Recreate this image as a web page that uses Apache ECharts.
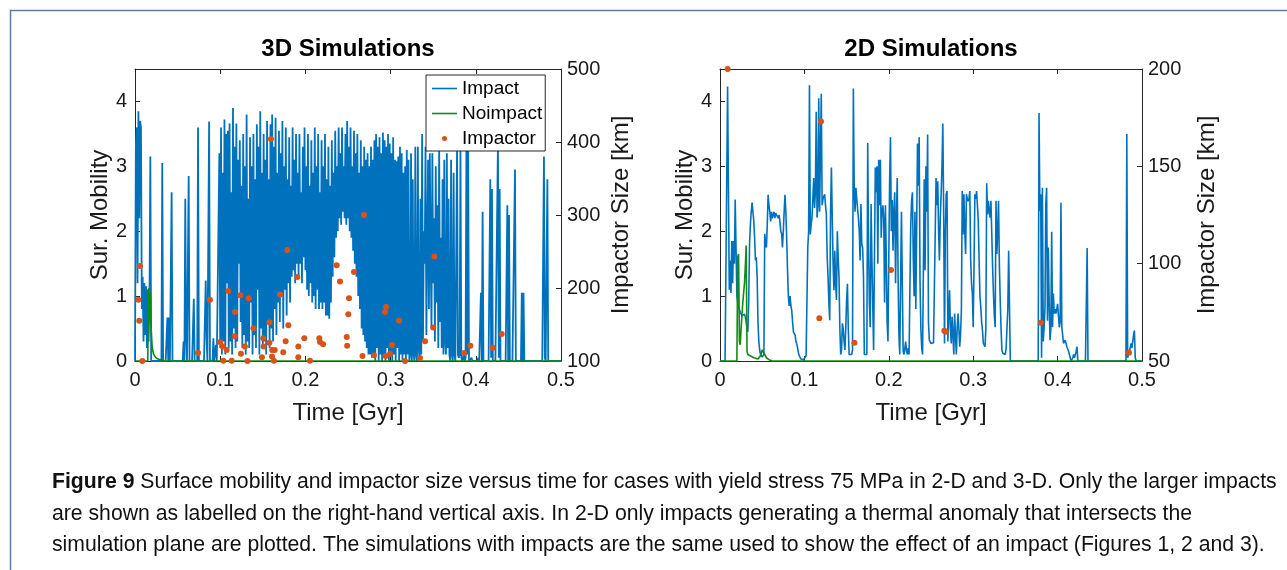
<!DOCTYPE html>
<html><head><meta charset="utf-8">
<script src="https://cdn.jsdelivr.net/npm/echarts@6/dist/echarts.min.js"></script>
<style>html,body{margin:0;padding:0;background:#fff}#c{width:1287px;height:570px}</style>
</head><body><div id="c"></div><script>
// ---------- DATA ----------
const timeStep = 0.001; // sampling step of the mobility series [Gyr]
const impact3D = [
0, 3.3, 3.6, 1.2, 3.85, 2.2, 3.7, 3.6, 0.8, 1.3,
0.3, 1.2, 0.4, 1.15, 0.2, 1.1, 0.3, 0.9, 3.15, 0,
0, 0, 0, 0, 0, 0, 0, 0, 0, 0,
0, 0, 3.05, 0, 0, 0, 0, 0, 0.67, 0,
0.67, 0, 0, 2.6, 0, 0, 0, 0, 0, 0,
0, 0, 0, 0, 0, 0, 0, 0.3, 0, 2.5,
0.4, 0, 0, 2.85, 0, 0, 0, 0, 0, 0.96,
0, 0, 0, 0, 3.6, 0, 0, 0, 0, 0,
0, 0, 0, 1.24, 0.35, 0, 0, 3.69, 0, 0,
0, 0, 0.35, 0, 0, 0.25, 0, 0, 0, 3.2,
0.2, 3.6, 0.1, 2.9, 0.3, 3.72, 0.1, 3.5, 1.2, 3.55,
0.2, 3.66, 0.3, 2.6, 0.1, 3.9, 0.5, 3.3, 0.2, 3.66,
0.3, 3.1, 1.5, 3.4, 0.6, 2.7, 0.2, 3.5, 0.4, 3.0,
0.1, 3.8, 0.3, 2.5, 0.2, 3.45, 0.9, 3.0, 0.1, 3.5,
0.4, 2.8, 0.2, 3.65, 1.1, 3.3, 0.1, 3.85, 0.5, 2.9,
0.2, 3.5, 0.3, 3.1, 0.1, 3.7, 0.6, 2.8, 0.2, 3.65,
0.5, 3.8, 0.3, 3.3, 0.8, 3.75, 0.4, 2.9, 0.9, 3.55,
0.6, 3.2, 1.0, 3.7, 0.5, 3.0, 1.1, 3.6, 0.7, 2.8,
1.2, 3.45, 0.9, 2.7, 1.3, 3.6, 1.4, 3.1, 1.2, 3.5,
1.5, 2.9, 1.3, 3.5, 1.5, 2.6, 1.2, 3.3, 1.6, 3.6,
1.4, 3.0, 1.1, 3.5, 1.0, 2.7, 1.2, 3.4, 0.9, 2.9,
1.0, 3.6, 0.8, 3.0, 1.1, 3.5, 0.8, 2.6, 0.9, 3.4,
0.8, 3.0, 0.9, 3.5, 0.7, 2.8, 0.7, 3.3, 0.65, 2.7,
0.9, 3.4, 1.3, 2.9, 1.6, 3.55, 1.9, 3.0, 2.0, 3.6,
2.2, 3.2, 2.1, 3.6, 2.3, 3.0, 2.2, 3.5, 2.1, 3.7,
2.2, 3.3, 2.0, 3.6, 1.9, 3.0, 1.7, 3.55, 1.5, 3.2,
1.3, 3.5, 1.0, 2.9, 0.8, 3.4, 0.5, 3.0, 0.4, 3.3,
0.3, 3.1, 0.2, 3.2, 0.1, 3.0, 0.1, 3.3, 0.05, 3.1,
0.1, 3.4, 0.0, 3.5, 0.2, 3.3, 0.0, 3.45, 0.1, 3.2,
0.0, 3.52, 0.1, 3.4, 0.0, 3.3, 0.2, 3.5, 0.0, 3.35,
0.1, 3.2, 0.0, 3.45, 0.1, 3.1, 0.0, 3.08, 0.2, 3.15,
0.0, 3.3, 0.1, 3.2, 0.0, 2.9, 0.1, 3.0, 0.0, 3.25,
0.1, 3.1, 0.0, 0.1, 3.2, 0.0, 2.8, 0.1, 0.0, 3.3,
0.1, 0.0, 3.3, 0.2, 0.0, 2.5, 0.1, 3.5, 0.3, 2.0,
1.5, 3.3, 0.4, 1.8, 3.1, 0.8, 3.2, 1.7, 0.5, 3.2,
1.2, 2.2, 0.3, 3.0, 0.9, 2.4, 0.2, 3.3, 0.6, 1.9,
0.2, 2.8, 0.1, 3.1, 0.3, 0.1, 3.2, 0.2, 2.5, 0.1,
0.0, 3.1, 0.1, 0.0, 2.9, 0.1, 0.0, 0.0, 3.3, 0.1,
0.05, 0.1, 3.3, 0.05, 0.0, 0.0, 0.1, 0.0, 0.05, 3.4,
0.1, 3.45, 0.0, 0.0, 0.0, 0.05, 0.0, 0.0, 0.0, 0.0,
0.0, 0.0, 0.0, 0.05, 0.0, 0.0, 1.05, 0.0, 2.3, 0.0,
0.0, 0.0, 0.0, 0.0, 0.0, 0.0, 0.0, 2.8, 0.05, 2.65,
0.0, 0.0, 0.0, 0.0, 0.0, 0.0, 3.35, 0.05, 2.65, 0.0,
0.0, 0.0, 0.0, 0.0, 0.0, 0.0, 0.0, 2.4, 0.0, 2.25,
0.0, 0.0, 0.0, 0.0, 0.0, 0.0, 2.95, 0.0, 0.0, 0.0,
0.0, 0.0, 0.0, 0.0, 1.05, 0.0, 1.05, 0.0, 0.0, 0.0,
0, 0, 0, 0, 0, 0, 0, 0, 0, 0,
0, 0, 0, 0, 0, 0, 0, 0, 0, 0,
3.15, 0.05, 0.0, 0.0, 2.8, 0.0, 0.0, 0.0, 0.0, 0.0,
0, 0, 0, 0, 0, 0, 0, 0, 0, 0,
0
];
const noimpact3D = [[0,0],[0.015,0],[0.016,1.12],[0.017,1.0],[0.018,1.05],[0.019,0.5],[0.020,0.25],[0.021,0.15],[0.022,0.1],[0.024,0.06],[0.027,0.03],[0.032,0.01],[0.035,0],[0.5,0]];
const impactor3DTime = [0.0059,0.0039,0.005,0.0086,0.074,0.088,0.1096,0.1174,0.1236,0.1334,0.139,0.1,0.103,0.1076,0.117,0.129,0.1244,0.1037,0.1135,0.132,0.149,0.1506,0.151,0.1577,0.1577,0.161,0.164,0.1608,0.163,0.1596,0.1788,0.1905,0.1702,0.18,0.1768,0.174,0.1917,0.1917,0.1987,0.2054,0.2163,0.2171,0.2207,0.2367,0.2406,0.2512,0.2504,0.2485,0.249,0.2688,0.257,0.267,0.2805,0.2946,0.2934,0.2942,0.2993,0.3016,0.3099,0.3169,0.3345,0.3404,0.3513,0.35,0.3862,0.3936,0.4198,0.4304];
const impactor3DSize = [230,184,155,100,111,184,196,167,190,186,145,126,120,115,134,120,110,100.5,100.5,100,105,131,120,153,125,115,115,106,100.5,404,252,215,191,149,127,112,120,105,131,100.5,131,126,123,231,209,186,164,133,121,300,222,107,108,174,167,107,110,122,155,100,104,127,243,146,111,121,118,137];

const impact2D = [
0, 0, 0, 0, 0, 0, 0, 0, 0, 4.23,
2.62, 1.1, 1.55, 1.05, 1.85, 1.2, 1.85, 1.5, 2.49, 1.75,
1.0, 0.9, 0.83, 0.8, 0.75, 0.72, 0.7, 0.68, 0.7, 0.72,
0.68, 0.6, 0.5, 0.45, 0.9, 1.8, 2.1, 2.3, 2.44, 2.3,
2.16, 1.9, 1.55, 1.6, 1.3, 0.6, 0.3, 0.17, 0.1, 0.07,
0.06, 0.08, 0.1, 1.96, 1.8, 1.75, 2.1, 2.56, 2.4, 2.3,
2.15, 2.3, 2.2, 2.25, 2.3, 2.2, 2.28, 2.25, 2.3, 2.2,
2.25, 2.15, 2.0, 1.96, 1.75, 2.0, 2.3, 2.56, 2.3, 1.9,
1.4, 1.0, 0.85, 1.0, 0.85, 0.78, 0.6, 0.45, 0.42, 0.4,
0.3, 0.26, 0.2, 0.12, 0.08, 0.05, 0.03, 0.02, 0.02, 0.02,
0.02, 0.03, 0.08, 0.1, 1.75, 2.0, 4.25, 1.95, 2.1, 2.21,
2.5, 2.82, 2.36, 2.6, 3.84, 2.21, 2.4, 4.05, 2.3, 2.32,
4.12, 2.4, 2.5, 2.52, 2.57, 2.4, 2.26, 1.6, 1.3, 0.9,
0.63, 2.3, 2.98, 2.21, 1.5, 1.09, 1.7, 1.2, 0.94, 2.0,
1.6, 1.3, 0.5, 0.1, 0.17, 0.58, 0.5, 0.3, 0.17, 0.5,
0.94, 1.19, 0.5, 0.1, 0.1, 0.1, 0.1, 0.17, 4.2, 2.7,
2.3, 2.67, 2.5, 2.47, 2.2, 2.0, 1.55, 2.42, 1.8, 1.75,
1.3, 0.1, 0.1, 0.1, 0.1, 3.36, 1.8, 0.9, 0.52, 2.42,
1.55, 1.55, 0.17, 0.2, 2.98, 2.6, 3.0, 1.5, 3.1, 2.4,
3.1, 1.9, 2.3, 2.4, 2.2, 0.9, 2.4, 1.6, 0.6, 0.3,
1.6, 2.8, 3.45, 2.0, 2.48, 1.7, 2.3, 2.6, 1.2, 2.2,
2.82, 1.3, 0.4, 0.1, 0.1, 2.3, 1.2, 0.15, 0.1, 0.1,
0.3, 0.15, 0.1, 0.2, 0.1, 0.1, 2.1, 2.47, 2.6, 1.6,
1.0, 2.3, 0.8, 2.0, 3.35, 2.7, 3.45, 1.2, 0.5, 0.2,
0.1, 0.1, 2.8, 1.4, 3.0, 2.3, 3.49, 0.6, 0.32, 0.3,
0.27, 0.3, 0.3, 0.28, 0.3, 0.25, 2.82, 2.4, 2.77, 2.0,
1.55, 2.2, 2.57, 3.0, 3.66, 2.31, 0.27, 2.0, 2.57, 2.62,
0.3, 0.32, 1.09, 0.5, 0.27, 0.68, 0.4, 0.1, 0.73, 0.4,
0.1, 0.5, 0.73, 0.5, 0.22, 0.4, 0.78, 2.62, 1.95, 2.57,
2.0, 1.65, 2.57, 2.5, 2.46, 2.5, 2.62, 1.55, 1.2, 1.04,
0.52, 1.5, 2.57, 2.5, 2.62, 2.4, 2.16, 1.55, 1.0, 0.83,
0.6, 0.47, 0.27, 0.25, 0.22, 0.5, 2.74, 2.26, 2.47, 2.3,
2.21, 2.47, 2.47, 1.44, 1.04, 0.7, 0.52, 2.47, 1.65, 2.0,
2.47, 1.5, 0.94, 0.5, 0.17, 0.12, 0.1, 0.1, 0.1, 0.2,
0.22, 0.8, 1.7, 1.7, 0, 0, 0, 0, 0, 0,
0, 0, 0, 0, 0, 0, 0, 0, 0, 0,
0, 0, 0, 0, 0, 0, 0, 0, 0, 0,
0, 0, 0, 0, 0, 0, 0, 0, 3.82, 2.31,
2.57, 0.05, 2.67, 0.3, 0.52, 0.8, 2.42, 2.67, 0.62, 1.75,
0.9, 0.32, 0.5, 1.99, 0.52, 1.04, 0.73, 0.8, 0.73, 0.8,
0.88, 0.7, 0.52, 0.6, 2.44, 0.52, 0.4, 0.27, 0.3, 0.32,
0.32, 0.22, 0.22, 0.15, 0.1, 0.05, 0, 0.02, 0.05, 0.1,
0.05, 0.1, 0.15, 0.22, 0, 0, 0, 0, 0, 0,
0, 0, 0, 0, 0, 1.74, 0, 0, 0, 0,
0, 0, 0, 0, 0, 0, 0, 0, 0, 0,
0, 0, 0, 0, 0, 0, 0, 0, 0, 0,
0, 0, 0, 0, 0, 0, 0, 0, 0, 0,
0, 0, 0, 0, 0, 0, 0, 0, 0, 0,
0, 0, 3.5, 0.05, 0.1, 0.15, 0.2, 0.27, 0.2, 0.3,
0.4, 0.47, 0.05, 0, 0, 0, 0, 0, 0, 0,
0
];
const noimpact2D = [[0,0],[0.020,0],[0.021,1.6],[0.022,1.65],[0.023,0.3],[0.024,0.25],[0.025,0.5],[0.026,0.7],[0.027,0.9],[0.028,1.05],[0.029,1.2],[0.030,1.45],[0.031,1.78],[0.032,0.15],[0.033,0.1],[0.035,0.08],[0.040,0.05],[0.045,0.03],[0.048,0.08],[0.050,0.17],[0.052,0.12],[0.055,0.05],[0.058,0.02],[0.062,0],[0.5,0]];
const impactor2DTime = [0.0091,0.1197,0.1177,0.1592,0.2026,0.2658,0.2674,0.3803,0.4846];
const impactor2DSize = [200,173,72,59.4,96.7,65.6,65,69.7,54.3];

const panelTitles = ['3D Simulations', '2D Simulations'];
const seriesNames = ['Impact', 'Noimpact', 'Impactor'];
const xAxisName = 'Time [Gyr]';
const yLeftName = 'Sur. Mobility';
const yRightName = 'Impactor Size [km]';
const captionLines = [
  '{b|Figure 9} Surface mobility and impactor size versus time for cases with yield stress 75 MPa in 2-D and 3-D. Only the larger impacts',
  'are shown as labelled on the right-hand vertical axis. In 2-D only impacts generating a thermal anomaly that intersects the',
  'simulation plane are plotted. The simulations with impacts are the same used to show the effect of an impact (Figures 1, 2 and 3).'
];

// ---------- CHART ----------
const toPairs = arr => arr.map((v, i) => [+(i * timeStep).toFixed(3), v]);
const zip = (a, b) => a.map((t, i) => [t, b[i]]);

const AX = '#262626';
const FONT = '"Liberation Sans", Arial, Helvetica, sans-serif';
const BLUE = '#0072BD', GREEN = '#138a13', ORANGE = '#D95319';
const NAME_STYLE = { fontSize: 24, color: '#1a1a1a', fontFamily: FONT };

function xBottom(g) {
  return { type: 'value', gridIndex: g, min: 0, max: 0.5, interval: 0.1, position: 'bottom',
    name: xAxisName, nameLocation: 'middle', nameGap: 40, nameTextStyle: NAME_STYLE,
    axisLine: { onZero: false, lineStyle: { color: AX, width: 1 } },
    axisTick: { inside: true, length: 5, lineStyle: { color: AX } },
    axisLabel: { fontSize: 20, color: '#1a1a1a', margin: 9, fontFamily: FONT },
    splitLine: { show: false } };
}
function xTop(g) {
  return { type: 'value', gridIndex: g, min: 0, max: 0.5, interval: 0.1, position: 'top',
    axisLine: { onZero: false, lineStyle: { color: AX, width: 1 } },
    axisTick: { inside: true, length: 5, lineStyle: { color: AX } },
    axisLabel: { show: false }, splitLine: { show: false } };
}
function yLeft(g) {
  return { type: 'value', gridIndex: g, min: 0, max: 4.5, interval: 1, position: 'left',
    name: yLeftName, nameLocation: 'middle', nameGap: 19, nameRotate: 90, nameTextStyle: NAME_STYLE,
    axisLine: { show: true, onZero: false, lineStyle: { color: AX, width: 1 } },
    axisTick: { show: true, inside: true, length: 5, lineStyle: { color: AX } },
    axisLabel: { fontSize: 20, color: '#1a1a1a', margin: 8, fontFamily: FONT, showMaxLabel: false },
    splitLine: { show: false } };
}
function yRight(g, min, max, interval, gap) {
  return { type: 'value', gridIndex: g, min: min, max: max, interval: interval, position: 'right',
    name: yRightName, nameLocation: 'middle', nameGap: gap, nameRotate: 90, nameTextStyle: NAME_STYLE,
    axisLine: { show: true, onZero: false, lineStyle: { color: AX, width: 1 } },
    axisTick: { show: true, inside: true, length: 5, lineStyle: { color: AX } },
    axisLabel: { fontSize: 20, color: '#1a1a1a', margin: 6, fontFamily: FONT },
    splitLine: { show: false } };
}

const LINE_ICON = 'path://M0,0h25v1.6h-25z';
const DOT_ICON = 'path://M0,0M25,14M10,7a2.5,2.5 0 1,0 5,0a2.5,2.5 0 1,0 -5,0z';

const option = {
  animation: false,
  backgroundColor: '#fff',
  title: [
    { text: panelTitles[0], left: 348, top: 37, padding: 0, textAlign: 'center',
      textStyle: { fontSize: 24, fontWeight: 'bold', color: '#000', fontFamily: FONT } },
    { text: panelTitles[1], left: 931, top: 37, padding: 0, textAlign: 'center',
      textStyle: { fontSize: 24, fontWeight: 'bold', color: '#000', fontFamily: FONT } }
  ],
  grid: [
    { left: 135, top: 69, width: 426, height: 292, containLabel: false },
    { left: 720, top: 69, width: 422, height: 292, containLabel: false }
  ],
  xAxis: [xBottom(0), xTop(0), xBottom(1), xTop(1)],
  yAxis: [yLeft(0), yRight(0, 100, 500, 100, 48), yLeft(1), yRight(1, 50, 200, 50, 53)],
  legend: {
    left: 426, top: 75, orient: 'vertical', selectedMode: false,
    padding: [4, 3, 3, 6], itemGap: 6, itemWidth: 25, itemHeight: 14,
    borderColor: AX, borderWidth: 1, backgroundColor: '#fff',
    textStyle: { fontSize: 19, color: '#000', fontFamily: FONT, lineHeight: 19 },
    data: [
      { name: seriesNames[0], icon: LINE_ICON },
      { name: seriesNames[1], icon: LINE_ICON },
      { name: seriesNames[2], icon: DOT_ICON }
    ],
    z: 10
  },
  series: [
    { name: seriesNames[0], type: 'line', xAxisIndex: 0, yAxisIndex: 0, data: toPairs(impact3D),
      symbol: 'none', lineStyle: { color: BLUE, width: 1.8 }, itemStyle: { color: BLUE }, z: 2 },
    { name: seriesNames[1], type: 'line', xAxisIndex: 0, yAxisIndex: 0, data: noimpact3D,
      symbol: 'none', lineStyle: { color: GREEN, width: 1.6 }, itemStyle: { color: GREEN }, z: 3 },
    { name: seriesNames[2], type: 'scatter', xAxisIndex: 0, yAxisIndex: 1, data: zip(impactor3DTime, impactor3DSize),
      symbol: 'circle', symbolSize: 6, itemStyle: { color: ORANGE, opacity: 1 }, z: 4 },
    { name: seriesNames[0] + ' 2D', type: 'line', xAxisIndex: 2, yAxisIndex: 2, data: toPairs(impact2D),
      symbol: 'none', lineStyle: { color: BLUE, width: 1.6 }, itemStyle: { color: BLUE }, z: 2 },
    { name: seriesNames[1] + ' 2D', type: 'line', xAxisIndex: 2, yAxisIndex: 2, data: noimpact2D,
      symbol: 'none', lineStyle: { color: GREEN, width: 1.6 }, itemStyle: { color: GREEN }, z: 3 },
    { name: seriesNames[2] + ' 2D', type: 'scatter', xAxisIndex: 2, yAxisIndex: 3, data: zip(impactor2DTime, impactor2DSize),
      symbol: 'circle', symbolSize: 6, itemStyle: { color: ORANGE, opacity: 1 }, z: 4 }
  ],
  graphic: [
    { type: 'rect', shape: { x: 10.5, y: 10.5, width: 1300, height: 600 }, silent: true,
      style: { fill: 'none', stroke: '#5a7ea6', lineWidth: 1.5 }, z: -1 },
  ].concat(captionLines.map((line, i) => ({
    type: 'text', x: 52, y: 482.5 + i * 31.5, silent: true,
    style: { text: line, fill: '#111', font: '21.2px ' + FONT, verticalAlign: 'middle',
      rich: { b: { fontWeight: 'bold', fontSize: 21.2, fontFamily: FONT, fill: '#111' } } }
  })))
};

const chart = echarts.init(document.getElementById('c'), null, { renderer: 'canvas' });
chart.setOption(option);
</script></body></html>
